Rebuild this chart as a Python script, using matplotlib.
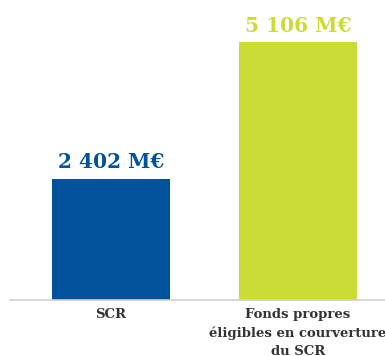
import matplotlib
matplotlib.use("Agg")
import matplotlib.pyplot as plt

# data
categories = ["SCR", "Fonds propres\néligibles en courverture\ndu SCR"]
values = [2402, 5106]
value_labels = ["2 402 M€", "5 106 M€"]
colors = ["#00539b", "#ccdc36"]

fig = plt.figure(figsize=(3.85, 3.56), dpi=100)
ax = fig.add_axes([10 / 385, 56 / 356, 375 / 385, 300 / 356])

x = range(len(values))
ax.bar(x, values, width=0.63, color=colors, zorder=2)

for xi, v, lab, c in zip(x, values, value_labels, colors):
    ax.annotate(lab, (xi, v), xytext=(0, 4.5), textcoords="offset points",
                ha="center", va="bottom", color=c, fontsize=14.5,
                fontweight="bold", family="DejaVu Serif")

ax.set_xlim(-0.54, 1.465)
ax.set_ylim(0, 5940)
ax.set_xticks(list(x))
ax.set_xticklabels(categories, fontsize=9.5, fontweight="bold",
                   family="DejaVu Serif", color="#333333", linespacing=1.5)
ax.tick_params(axis="x", length=0, pad=6)
ax.set_yticks([])
for s in ["top", "left", "right"]:
    ax.spines[s].set_visible(False)
ax.spines["bottom"].set_color("#d0d0d0")
ax.spines["bottom"].set_linewidth(1.2)

fig.savefig("out.png", dpi=100)
